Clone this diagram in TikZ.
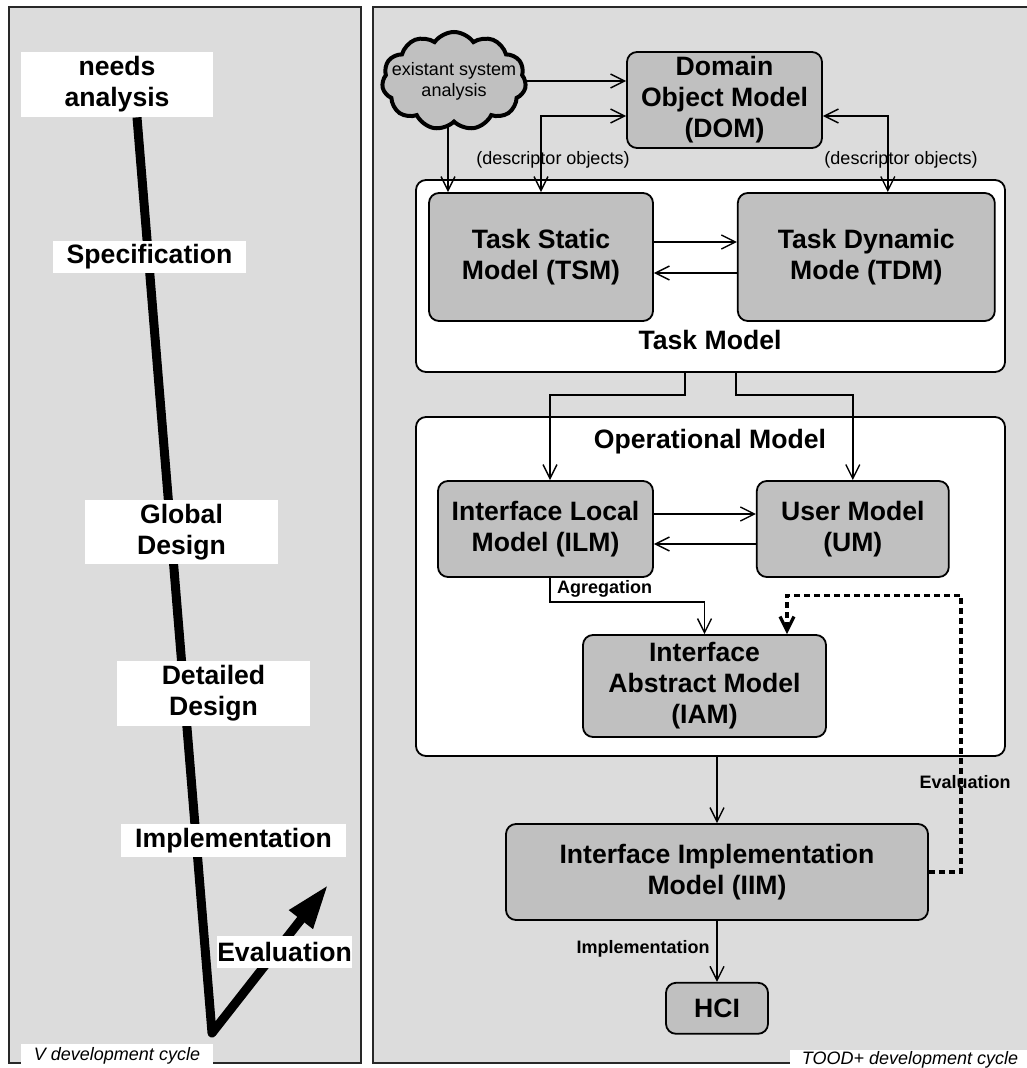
\documentclass[tikz,border=0pt]{standalone}
\usepackage{fontspec}
\setmainfont{Liberation Sans}
\usetikzlibrary{positioning,arrows.meta,shapes.symbols}

\definecolor{panelgray}{RGB}{220,220,220}
\definecolor{boxgray}{RGB}{192,192,192}
\definecolor{rimgray}{RGB}{40,40,40}

\newcommand{\bigbold}{\fontsize{13.3pt}{15.5pt}\selectfont\bfseries}
\newcommand{\smallbold}{\fontsize{9pt}{10.5pt}\selectfont\bfseries}
\newcommand{\smallplain}{\fontsize{9pt}{10.5pt}\selectfont}
\newcommand{\cyclefont}{\fontsize{9pt}{10.5pt}\selectfont\itshape}

\tikzset{
  panel/.style = {draw=rimgray, fill=panelgray, line width=0.8pt},
  phase/.style = {fill=white, font=\bigbold, align=center, inner sep=0pt},
  vline/.style = {line width=4.5pt, line join=round, -{Triangle[length=22pt,width=14pt]}},
  model/.style = {draw, fill=boxgray, rounded corners=5pt, line width=0.9pt, font=\bigbold, align=center, inner sep=0pt},
  frame/.style = {draw, fill=white, rounded corners=5pt, line width=0.9pt, inner sep=0pt},
  cloudy/.style = {cloud, cloud puffs=11, cloud puff arc=110, cloud ignores aspect, draw, line width=2pt, fill=boxgray, minimum width=72pt, minimum height=49pt, inner sep=0pt},
  conn/.style = {line width=0.7pt, -{Straight Barb[length=7pt,width=7pt]}},
  dconn/.style = {line width=0.7pt, {Straight Barb[length=7pt,width=7pt]}-{Straight Barb[length=7pt,width=7pt]}},
  evalconn/.style = {line width=1.6pt, dash pattern=on 3pt off 2pt, -{Straight Barb[length=7pt,width=7pt]}},
  edgelbl/.style = {font=\smallbold, inner sep=0pt},
  desclbl/.style = {font=\smallplain, inner sep=0pt},
  cyclelbl/.style = {fill=white, font=\cyclefont, inner sep=0pt},
}

\begin{document}
\begin{tikzpicture}[x=0.5pt, y=-0.5pt]
  \useasboundingbox (0,0) rectangle (1026,1068);
  \fill[white] (0,0) rectangle (1026,1068);

  % V development cycle
  \draw[panel] (9,7) rectangle (361,1063);
  \node[phase, minimum width=96pt, minimum height=32.5pt] (needs) at (117,84.5) {needs\\analysis};
  \coordinate (vbottom) at (212,1033);
  \coordinate (vtip) at (328,885);
  \draw[vline] ([xshift=10pt]needs.south) -- (vbottom) -- (vtip);

  \node[phase, minimum width=96.5pt, minimum height=16pt] (spec) at (149.5,257) {Specification};
  \node[phase, minimum width=96.5pt, minimum height=32pt] (global) at (181.5,532) {Global\\Design};
  \node[phase, minimum width=96.5pt, minimum height=32.5pt] (detailed) at (213.5,693.5) {Detailed\\Design};
  \node[phase, minimum width=112.5pt, minimum height=16.5pt] (implem) at (233.5,840.5) {Implementation};
  \node[phase, minimum width=67.5pt, minimum height=16pt] (evalv) at (284.5,952) {Evaluation};
  \node[cyclelbl, minimum width=96pt, minimum height=12pt] (vcycle) at (117,1056) {V development cycle};

  % TOOD+ development cycle
  \draw[panel] (373,7) rectangle (1040,1063);

  \node[frame, minimum width=294.5pt, minimum height=96pt] (taskm) at (710.5,276) {};
  \node[font=\bigbold] (tasktitle) at (710,340) {Task Model};
  \node[frame, minimum width=294.5pt, minimum height=169.5pt] (opm) at (710.5,586.5) {};
  \node[font=\bigbold] (optitle) at (710,442) {Operational Model};

  \node[desclbl] (desc1) at (553,160) {(descriptor objects)};
  \node[desclbl] (desc2) at (901,160) {(descriptor objects)};
  \node[edgelbl] (agr) at (604.5,589) {Agregation};
  \node[edgelbl] (evalt) at (965,782) {Evaluation};
  \node[edgelbl] (implt) at (643,949) {Implementation};

  \node[cloudy] (esa) at (454,81) {};
  \node[desclbl, align=center] (esatext) at (esa.center) {existant system\\analysis};
  \node[model, minimum width=97.5pt, minimum height=48pt] (dom) at (724.5,100) {Domain\\Object Model\\(DOM)};

  \node[model, minimum width=112pt, minimum height=64pt] (tsm) at (541,257) {Task Static\\Model (TSM)};
  \node[model, minimum width=128.5pt, minimum height=64pt, right=41.5pt of tsm] (tdm) {Task Dynamic\\Mode (TDM)};

  \node[model, minimum width=107.5pt, minimum height=48pt] (ilm) at (545.5,529) {Interface Local\\Model (ILM)};
  \node[model, minimum width=96pt, minimum height=48pt, right=51pt of ilm] (um) {User Model\\(UM)};
  \node[model, minimum width=121.5pt, minimum height=51pt] (iam) at (704.5,686) {Interface\\Abstract Model\\(IAM)};

  \node[model, minimum width=211pt, minimum height=48pt] (iim) at (717,872) {Interface Implementation\\Model (IIM)};
  \node[model, minimum width=51pt, minimum height=25.5pt, below=30.5pt of iim] (hci) {HCI};

  % connectors
  \draw[conn] (esa.east) -- (esa.east -| dom.west);
  \draw[conn] ([xshift=-3pt]esa.south) -- ([xshift=-3pt]esa.south |- tsm.north);
  \draw[dconn] ([yshift=-8pt]dom.west) -| (tsm.north);
  \draw[dconn] ([yshift=-8pt]dom.east) -| ([xshift=10.75pt]tdm.north);

  \draw[conn] ([yshift=7.5pt]tsm.east) -- ([yshift=7.5pt]tsm.east -| tdm.west);
  \draw[conn] ([yshift=-8pt]tdm.west) -- ([yshift=-8pt]tdm.west -| tsm.east);

  \draw[conn] ([xshift=-12.75pt]taskm.south) -- ++(0,-11pt) -| ([xshift=2.25pt]ilm.north);
  \draw[conn] ([xshift=12.75pt]taskm.south) -- ++(0,-11pt) -| (um.north);

  \draw[conn] ([yshift=7.5pt]ilm.east) -- ([yshift=7.5pt]ilm.east -| um.west);
  \draw[conn] ([yshift=-7.5pt]um.west) -- ([yshift=-7.5pt]um.west -| ilm.east);

  \draw[conn] ([xshift=2.25pt]ilm.south) -- ++(0,-12pt) -| (iam.north);
  \draw[conn] (iim.north |- opm.south) -- (iim.north);
  \draw[conn] (iim.south) -- (hci.north);
  \draw[evalconn] (iim.east) -- ++(16pt,0) |- ([xshift=41.25pt,yshift=19.5pt]iam.north) -- ([xshift=41.25pt]iam.north);

  \node[cyclelbl, minimum width=120pt, minimum height=10pt] (toodcycle) at (910,1060) {TOOD+ development cycle};
\end{tikzpicture}
\end{document}
